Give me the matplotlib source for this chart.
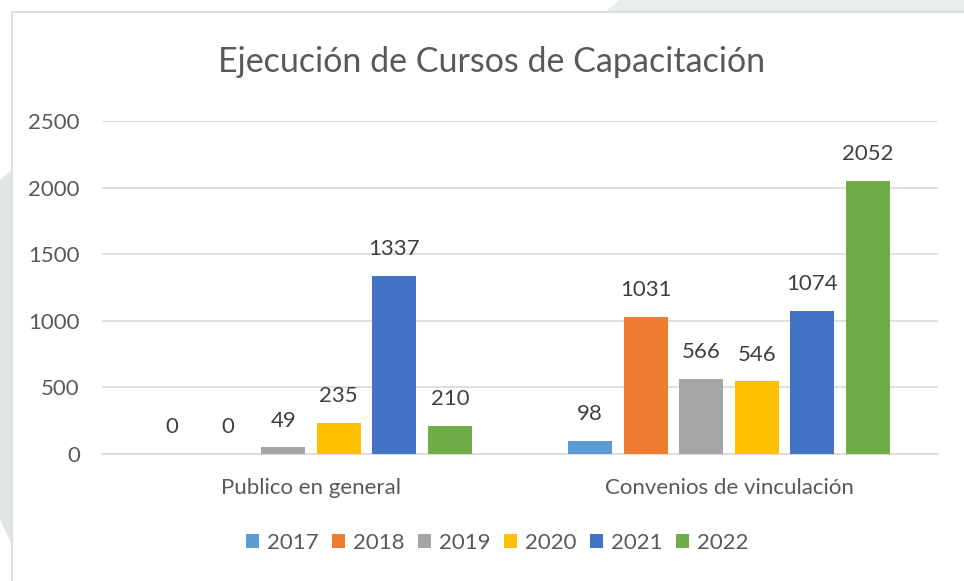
import matplotlib
matplotlib.use("Agg")
import matplotlib.pyplot as plt
from matplotlib.patches import Rectangle, Polygon
import numpy as np

categories = ["Publico en general", "Convenios de vinculación"]
years = ["2017", "2018", "2019", "2020", "2021", "2022"]
values = {
    "2017": [0, 98],
    "2018": [0, 1031],
    "2019": [49, 566],
    "2020": [235, 546],
    "2021": [1337, 1074],
    "2022": [210, 2052],
}
colors = ["#5B9BD5", "#ED7D31", "#A5A5A5", "#FFC000", "#4472C4", "#70AD47"]
yticks = [0, 500, 1000, 1500, 2000, 2500]

plt.rcParams['font.family'] = ['Lato', 'DejaVu Sans']
W, H = 964, 581
fig = plt.figure(figsize=(W/100, H/100), dpi=100)
fig.patch.set_facecolor("white")

# background decoration
fig.patches.append(Polygon([(0, 1-180/H), (12/W, 1-170/H), (12/W, 1-545/H), (0, 1-520/H)],
                           closed=True, transform=fig.transFigure, facecolor="#dfe5e5", edgecolor="none", zorder=0))
fig.patches.append(Polygon([(620/W, 1), (1, 1), (1, 1-12/H), (605/W, 1-12/H)],
                           closed=True, transform=fig.transFigure, facecolor="#e8eeee", edgecolor="none", zorder=0))
fig.patches.append(Rectangle((12/W, -0.1), 1.2, 1-12/H+0.1, transform=fig.transFigure,
                             facecolor="white", edgecolor="#d9d9d9", linewidth=1.2, zorder=1))

ax = fig.add_axes([102/W, 1-454/H, (938-102)/W, (454-121)/H])
ax.set_facecolor("none")
ax.set_zorder(2)

FS = 16
x = np.arange(len(categories))
pitch = 0.133
width = 0.105
n = len(years)
for i, (yr, c) in enumerate(zip(years, colors)):
    off = (i - (n-1)/2) * pitch
    bars = ax.bar(x + off, values[yr], width=width, color=c, zorder=3, label=yr)
    for xi, v in zip(x + off, values[yr]):
        ax.text(xi, v + 125, str(v), ha="center", va="bottom", fontsize=FS, color="#404040", zorder=4)

ax.set_xlim(-0.5, 1.5)
ax.set_ylim(0, 2500)
ax.set_yticks(yticks)
ax.set_yticklabels([str(t) for t in yticks], fontsize=FS, color="#595959")
ax.yaxis.grid(True, color="#d9d9d9", linewidth=1.2, zorder=0)
ax.set_axisbelow(True)
ax.set_xticks(x)
ax.set_xticklabels(categories, fontsize=FS, color="#595959")
ax.tick_params(axis="both", length=0)
ax.tick_params(axis="y", pad=16)
ax.tick_params(axis="x", pad=17)
for s in ["top", "right", "left"]:
    ax.spines[s].set_visible(False)
ax.spines["bottom"].set_color("#d9d9d9")
ax.spines["bottom"].set_linewidth(1.2)

fig.text(492/W, 1-62/H, "Ejecución de Cursos de Capacitación", ha="center", va="center",
         fontsize=24.5, color="#595959", zorder=5)

leg = fig.legend(loc="center", bbox_to_anchor=(497/W, 1-543/H), ncol=6, frameon=False,
                 fontsize=FS, handlelength=0.6, handleheight=0.6, handletextpad=0.35,
                 columnspacing=0.6)
for t in leg.get_texts():
    t.set_color("#595959")

fig.savefig("out.png", dpi=100)
